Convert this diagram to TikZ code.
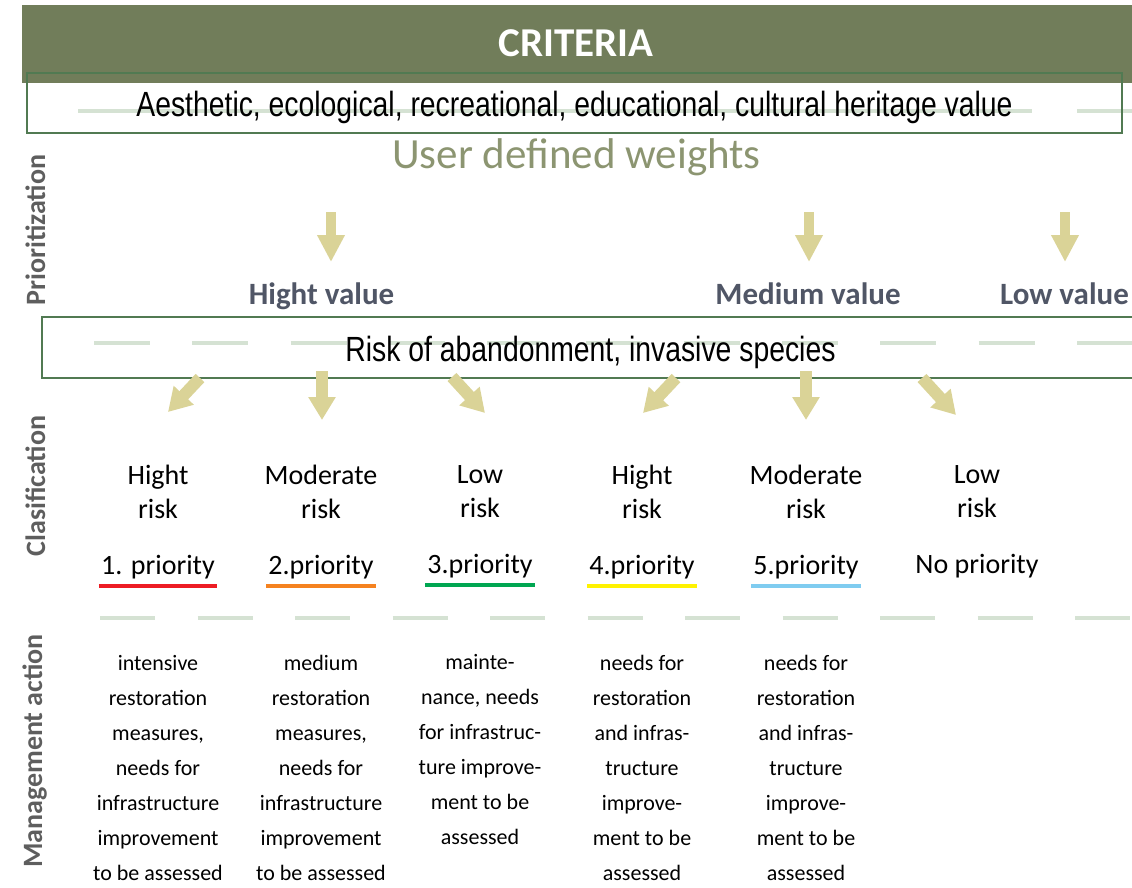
\documentclass[tikz,border=0pt]{standalone}
\usepackage{fontspec}
\setmainfont{Carlito}
\newfontfamily\narrowsans[FakeStretch=0.81]{Liberation Sans}
\usetikzlibrary{arrows.meta,positioning}

\definecolor{bandgreen}{HTML}{717D5A}
\definecolor{framegreen}{HTML}{517A52}
\definecolor{guidegreen}{HTML}{D5E2D3}
\definecolor{khaki}{HTML}{DAD397}
\definecolor{weightgray}{HTML}{8C9571}
\definecolor{valuegray}{HTML}{505666}
\definecolor{sidegray}{HTML}{5E5E5E}
\definecolor{prio1}{HTML}{ED1C24}
\definecolor{prio2}{HTML}{F58220}
\definecolor{prio3}{HTML}{00A651}
\definecolor{prio4}{HTML}{FFF200}
\definecolor{prio5}{HTML}{7FCCF0}

\begin{document}
\begin{tikzpicture}[x=1pt,y=-1pt,node distance=29pt,
    guide/.style={guidegreen,line width=4pt},
    framebox/.style={draw=framegreen,line width=1.6pt},
    fatarrow/.style={color=khaki,line width=12pt,-{Triangle[length=23pt,width=26pt]}},
    sidelabel/.style={rotate=90,anchor=base,text=sidegray,font=\bfseries\fontsize{28}{28}\selectfont},
    valuelbl/.style={anchor=base,text=valuegray,font=\bfseries\fontsize{31}{31}\selectfont},
    narrowlbl/.style={anchor=base,font=\narrowsans\fontsize{35}{35}\selectfont},
    risklbl/.style={anchor=north,inner sep=0pt,align=center,font=\fontsize{28}{34}\selectfont},
    prio/.style={inner xsep=2pt,inner ysep=7pt,font=\fontsize{28}{28}\selectfont},
    action/.style={inner sep=0pt,align=center,font=\fontsize{22}{35}\selectfont},
    prioline/.style={line width=4pt}]
\useasboundingbox (0,0) rectangle (1132,888);

\fill[bandgreen] (22,5) rectangle (1132,83);
\node[anchor=base,text=white,font=\bfseries\fontsize{41}{41}\selectfont] (criteria) at (576,57) {CRITERIA};

\draw[guide,dash pattern=on 954pt off 45pt] (78,111) -- (1132,111);
\draw[guide,dash pattern=on 56pt off 42.3pt] (94,343) -- (1132,343);
\draw[guide,dash pattern=on 55pt off 42.5pt] (100,618) -- (1132,618);

\node[framebox,line width=1.4pt,minimum width=1095pt,minimum height=60pt] (values_box) at (574.5,103) {};
\node[narrowlbl] (values) at (574.5,117) {Aesthetic, ecological, recreational, educational, cultural heritage value};
\node[anchor=base,text=weightgray,font=\fontsize{43}{43}\selectfont] (weights) at (576.5,168) {User defined weights};

\node[sidelabel] (prioritization) at (45,230) {Prioritization};
\node[sidelabel] (clasification) at (45,486) {Clasification};
\node[sidelabel] (management) at (42,751) {Management action};

\node[valuelbl] (v_1) at (321.5,304) {Hight value};
\node[valuelbl] (v_2) at (808,304) {Medium value};
\node[valuelbl] (v_3) at (1064.5,304) {Low value};

\node[framebox,minimum width=1100pt,minimum height=61pt] (risk_box) at (592,347.5) {};
\node[narrowlbl] (risk) at (590.5,361) {Risk of abandonment, invasive species};

\node[risklbl] (r_1) at (158,465) {Hight\\risk};
\node[risklbl] (r_2) at (321,465) {Moderate\\risk};
\node[risklbl] (r_3) at (480,465) {Low\\risk};
\node[risklbl] (r_4) at (642,465) {Hight\\risk};
\node[risklbl] (r_5) at (806,465) {Moderate\\risk};
\node[risklbl] (r_6) at (977,465) {Low\\risk};

\node[prio] (p_1) [below=of r_1] {1. priority};
\node[prio] (p_2) [below=of r_2] {2.priority};
\node[prio] (p_3) [below=of r_3] {3.priority};
\node[prio] (p_4) [below=of r_4] {4.priority};
\node[prio] (p_5) [below=of r_5] {5.priority};
\node[prio] (p_6) [below=of r_6] {No priority};

\draw[prioline,prio1] (p_1.south west) -- (p_1.south east);
\draw[prioline,prio2] (p_2.south west) -- (p_2.south east);
\draw[prioline,prio3] (p_3.south west) -- (p_3.south east);
\draw[prioline,prio4] (p_4.south west) -- (p_4.south east);
\draw[prioline,prio5] (p_5.south west) -- (p_5.south east);

\node[action] (m_1) [below=69pt of p_1] {intensive\\restoration\\measures,\\needs for\\infrastructure\\improvement\\to be assessed};
\node[action] (m_2) [below=69pt of p_2] {medium\\restoration\\measures,\\needs for\\infrastructure\\improvement\\to be assessed};
\node[action] (m_3) [below=69pt of p_3] {mainte-\\nance, needs\\for infrastruc-\\ture improve-\\ment to be\\assessed};
\node[action] (m_4) [below=69pt of p_4] {needs for\\restoration\\and infras-\\tructure\\improve-\\ment to be\\assessed};
\node[action] (m_5) [below=69pt of p_5] {needs for\\restoration\\and infras-\\tructure\\improve-\\ment to be\\assessed};

\coordinate (w_1) at (331,212);   \coordinate (x_1) at (331,262);
\coordinate (w_2) at (809,212);   \coordinate (x_2) at (809,262);
\coordinate (w_3) at (1065,212);  \coordinate (x_3) at (1065,262);
\path[fatarrow,line width=10pt,-{Triangle[length=27pt,width=26pt]}]
    (w_1) edge (x_1)
    (w_2) edge (x_2)
    (w_3) edge (x_3);

\coordinate (s_1) at (200,378);  \coordinate (t_1) at (168,412);
\coordinate (s_2) at (322,371);  \coordinate (t_2) at (322,420);
\coordinate (s_3) at (452,377);  \coordinate (t_3) at (485,413);
\coordinate (s_4) at (676,378);  \coordinate (t_4) at (643,413);
\coordinate (s_5) at (806,371);  \coordinate (t_5) at (806,420);
\coordinate (s_6) at (922,378);  \coordinate (t_6) at (956,415);
\path[fatarrow]
    (s_1) edge (t_1)
    (s_2) edge (t_2)
    (s_3) edge (t_3)
    (s_4) edge (t_4)
    (s_5) edge (t_5)
    (s_6) edge (t_6);
\end{tikzpicture}
\end{document}
